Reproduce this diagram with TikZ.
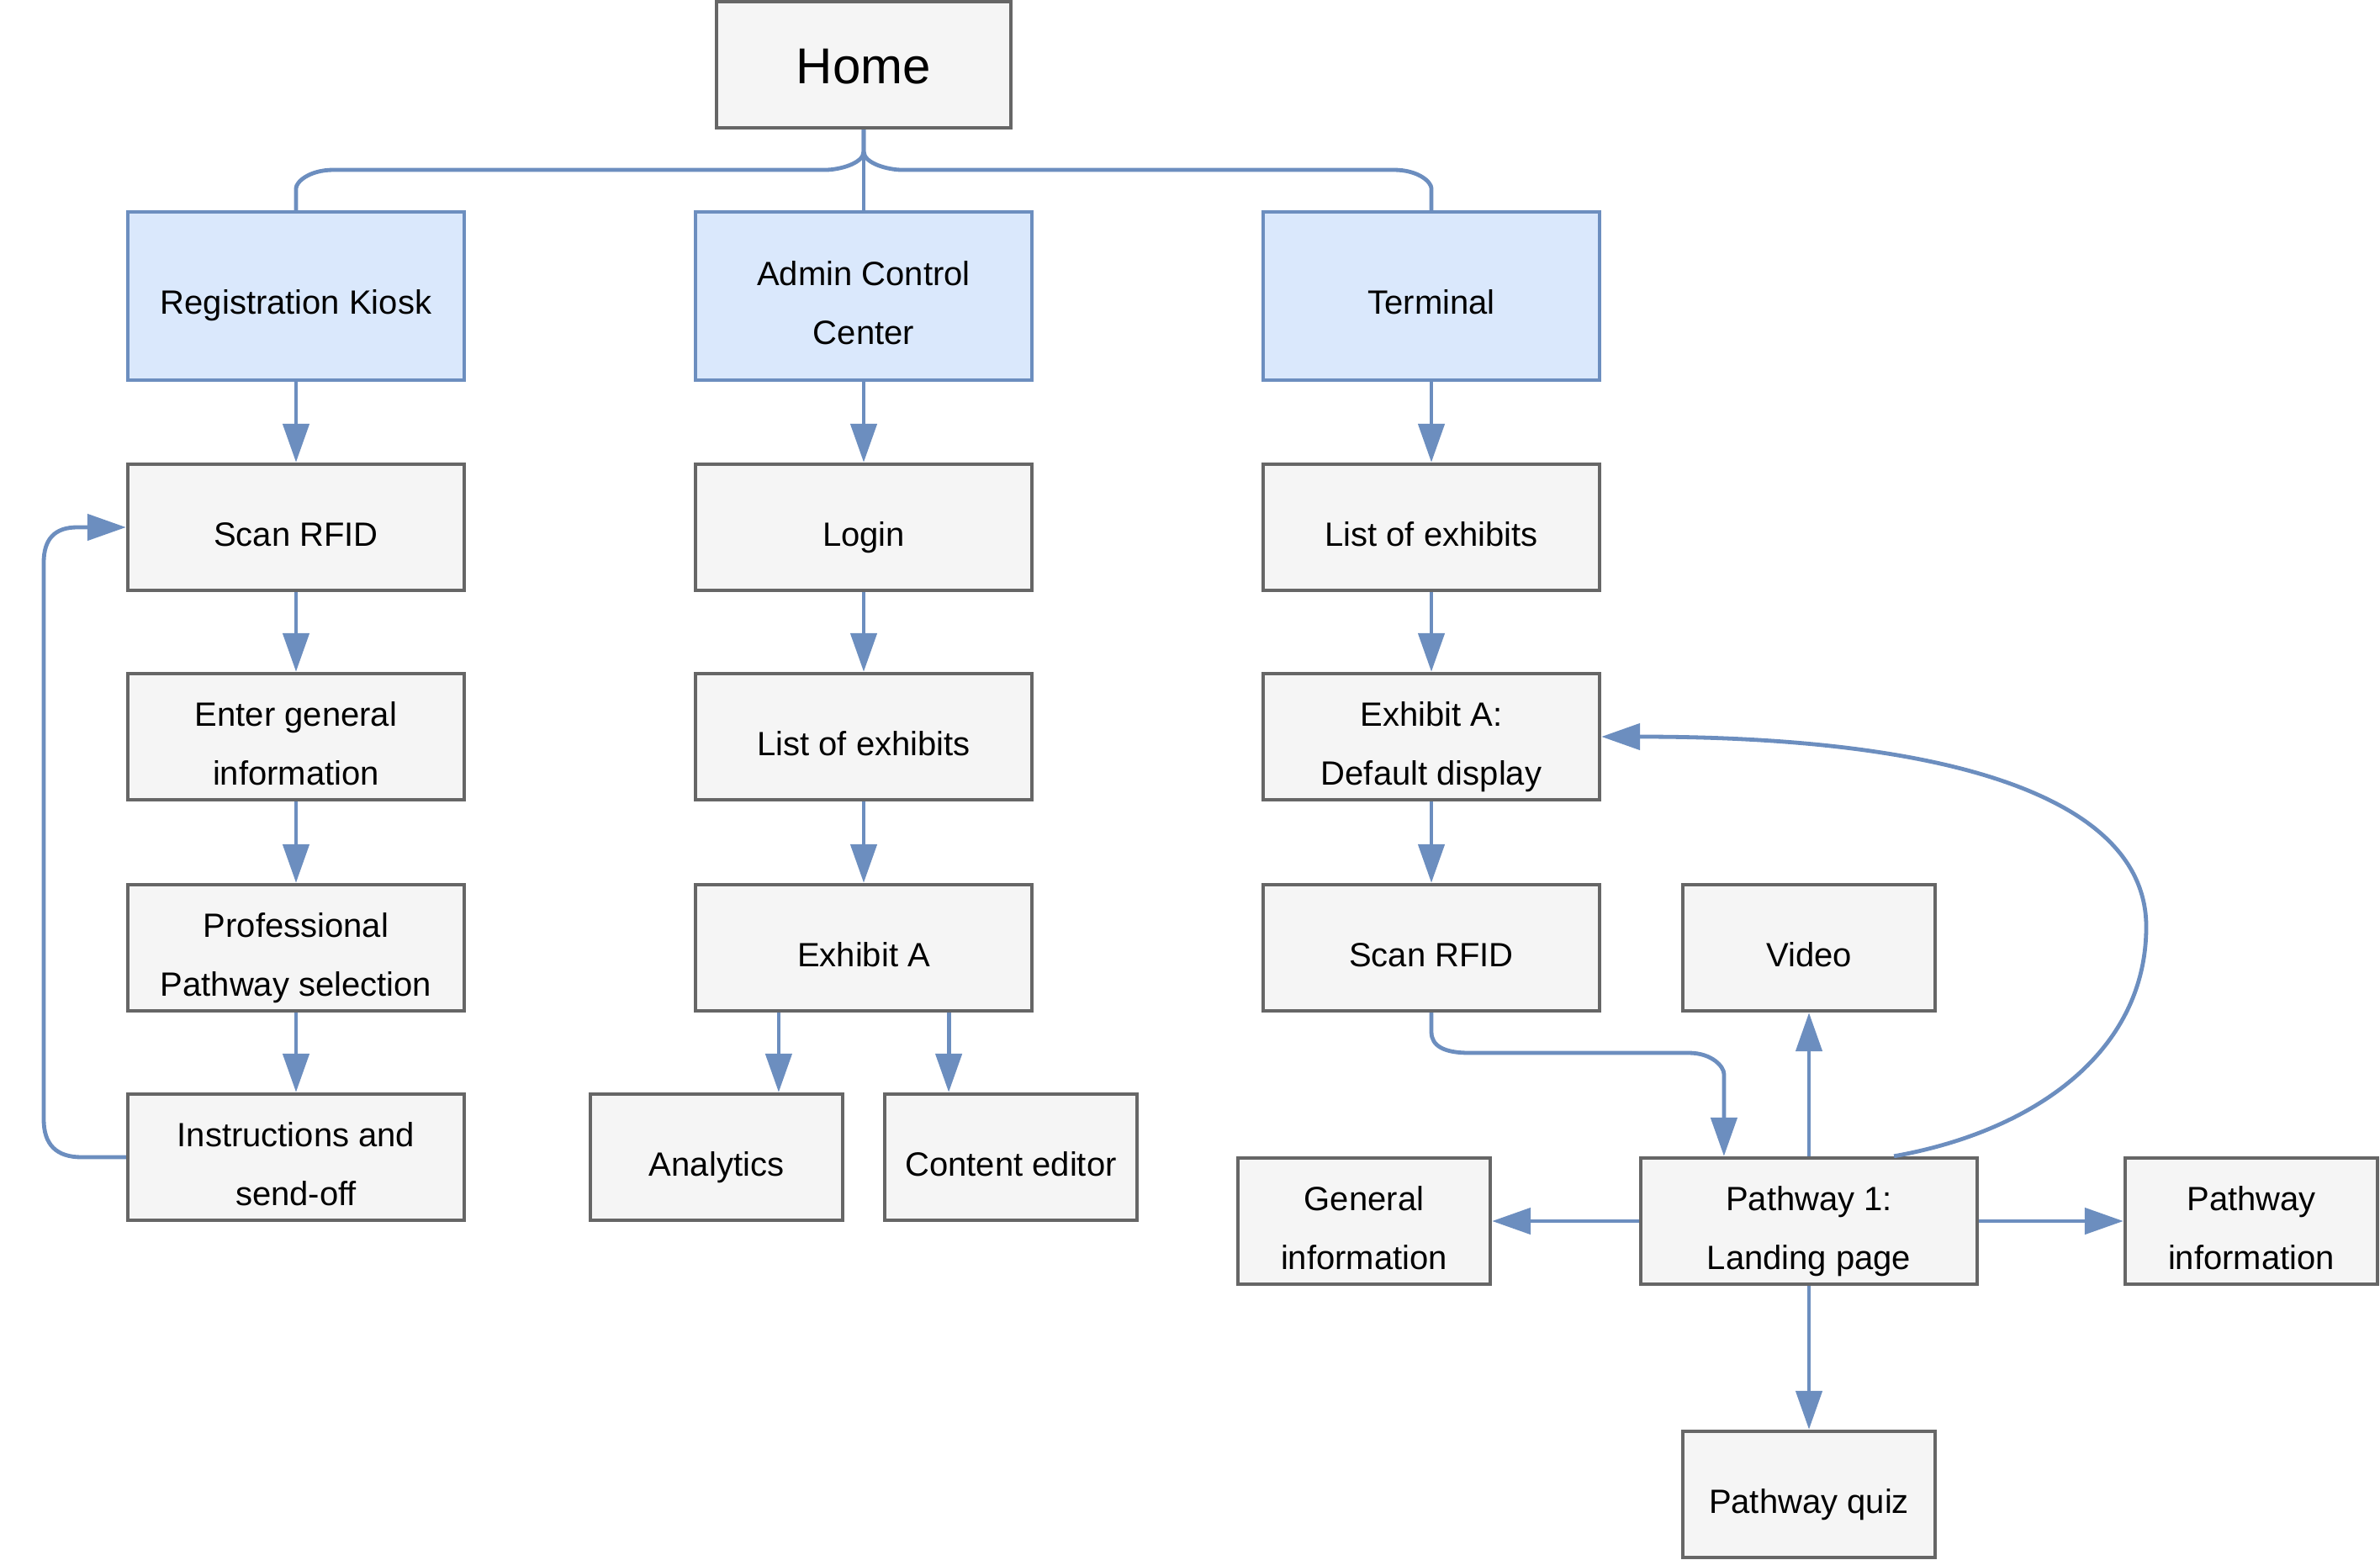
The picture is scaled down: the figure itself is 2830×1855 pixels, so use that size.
\documentclass[tikz,border=0pt]{standalone}
\usepackage{fontspec}
\setmainfont{Liberation Sans}
\usetikzlibrary{arrows.meta,calc}
\definecolor{bstroke}{HTML}{6C8EBF}
\definecolor{bfill}{HTML}{DAE8FC}
\definecolor{gstroke}{HTML}{666666}
\definecolor{gfill}{HTML}{F5F5F5}
\newcommand\twol[2]{\vtop{\halign{\hfil##\hfil\cr#1\cr#2\cr}}}
\begin{document}
\begin{tikzpicture}[x=0.5pt,y=-0.5pt,
  box/.style={draw=gstroke, fill=gfill, line width=2.2pt, minimum width=200pt,
    minimum height=75pt, inner sep=0pt, font=\fontsize{20}{35}\selectfont,
    text height=22pt, text depth=0pt},
  bbox/.style={box, draw=bstroke, fill=bfill, minimum height=100pt},
  small/.style={minimum width=150pt},
  two/.style={text height=0pt, text depth=12.4pt},
  conn/.style={draw=bstroke, line width=2.4pt},
  arr/.style={conn, -{Triangle[length=23pt,width=15.5pt]}}]
\useasboundingbox (0,0) rectangle (2830,1855);

% top
\node[box, minimum width=175pt, font=\fontsize{30}{36}\selectfont, text height=23pt] (home) at (1027,77) {Home};
\node[bbox] (reg) at (352,352) {Registration Kiosk};
\node[bbox, two] (admin) at (1027,352) {\twol{Admin Control}{Center}};
\node[bbox] (term) at (1702,352) {Terminal};

% left column
\node[box] (scan1) at (352,627) {Scan RFID};
\node[box, two] (enter) at (352,876) {\twol{Enter general}{information}};
\node[box, two] (prof) at (352,1127) {\twol{Professional}{Pathway selection}};
\node[box, two] (instr) at (352,1376) {\twol{Instructions and}{send-off}};

% middle column
\node[box] (login) at (1027,627) {Login};
\node[box] (list1) at (1027,876) {List of exhibits};
\node[box] (exA) at (1027,1127) {Exhibit A};
\node[box, small] (ana) at (852,1376) {Analytics};
\node[box, small] (cont) at (1202,1376) {Content editor};

% right column
\node[box] (list2) at (1702,627) {List of exhibits};
\node[box, two] (exAd) at (1702,876) {\twol{Exhibit A:}{Default display}};
\node[box] (scan2) at (1702,1127) {Scan RFID};
\node[box, small] (video) at (2151,1127) {Video};
\node[box, small, two] (gen) at (1622,1452) {\twol{General}{information}};
\node[box, two] (p1) at (2151,1452) {\twol{Pathway 1:}{Landing page}};
\node[box, small, two] (pinfo) at (2677,1452) {\twol{Pathway}{information}};
\node[box, small] (quiz) at (2151,1777) {Pathway quiz};

% home connectors
\draw[conn] (home.south) -- (1027,180) .. controls (1027,194.7) and (997,202) .. (982,202)
  -- (397,202) .. controls (367,202) and (352,216.7) .. (352,224) -- (reg.north);
\draw[conn] (home.south) -- (admin.north);
\draw[conn] (home.south) -- (1027,180) .. controls (1027,194.7) and (1057,202) .. (1072,202)
  -- (1657,202) .. controls (1687,202) and (1702,216.7) .. (1702,224) -- (term.north);

% left column arrows
\draw[arr] (reg.south) -- (scan1.north);
\draw[arr] (scan1.south) -- (enter.north);
\draw[arr] (enter.south) -- (prof.north);
\draw[arr] (prof.south) -- (instr.north);
\draw[arr] (instr.west) -- (97,1376) .. controls (67,1376) and (52,1361) .. (52,1331)
  -- (52,669) .. controls (52,641) and (65,627) .. (92,627) -- (scan1.west);

% middle column arrows
\draw[arr] (admin.south) -- (login.north);
\draw[arr] (login.south) -- (list1.north);
\draw[arr] (list1.south) -- (exA.north);
\coordinate (exa1) at ($(exA.south west)!0.25!(exA.south east)$);
\coordinate (exa2) at ($(exA.south west)!0.75!(exA.south east)$);
\draw[arr] (exa1) -- (exa1 |- ana.north);
\draw[arr] (exa2) -- (exa2 |- cont.north);

% right column arrows
\draw[arr] (term.south) -- (list2.north);
\draw[arr] (list2.south) -- (exAd.north);
\draw[arr] (exAd.south) -- (scan2.north);
\coordinate (p1a) at ($(p1.north west)!0.25!(p1.north east)$);
\coordinate (p1b) at ($(p1.north west)!0.75!(p1.north east)$);
\coordinate (bend) at (p1a |- 0,1277);
\draw[arr] (scan2.south) -- (1702,1227) .. controls (1702,1243.7) and (1717,1252) .. (1747,1252)
  -- ([xshift=-21pt]bend |- 0,1252) .. controls ([xshift=-7pt]bend |- 0,1252) and ([yshift=4.2pt]bend) .. (bend) -- (p1a);
\draw[arr] (p1.north) -- (video.south);
\draw[arr] (p1.west) -- (gen.east);
\draw[arr] (p1.east) -- (pinfo.west);
\draw[arr] (p1.south) -- (quiz.north);
\draw[arr] (p1b) .. controls (2420,1345) and (2552,1250) .. (2552,1102)
  .. controls (2552,960) and (2350,876) .. (exAd.east);
\end{tikzpicture}
\end{document}
